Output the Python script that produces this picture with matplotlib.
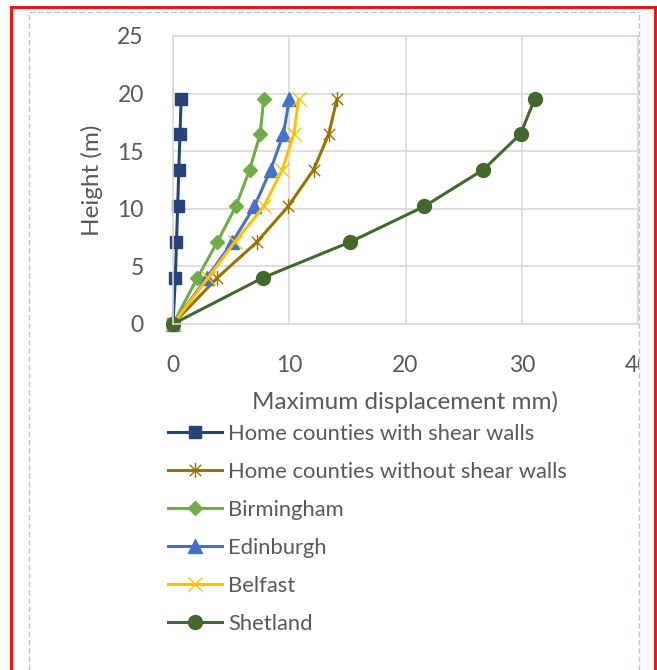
import numpy as np
import matplotlib
matplotlib.use("Agg")
import matplotlib.pyplot as plt
from matplotlib.path import Path
from matplotlib.lines import Line2D
from matplotlib.transforms import Bbox, TransformedBbox

plt.rcParams['font.family'] = ['Lato', 'DejaVu Sans']

# data (displacement in mm, height in m)
height = [0, 4.0, 7.1, 10.2, 13.4, 16.5, 19.5]
home_with_walls = [0, 0.2, 0.3, 0.4, 0.5, 0.6, 0.7]
home_without_walls = [0, 3.8, 7.2, 9.9, 12.1, 13.4, 14.1]
birmingham = [0, 2.1, 3.8, 5.4, 6.6, 7.5, 7.8]
edinburgh = [0, 2.9, 5.1, 7.0, 8.4, 9.5, 10.0]
belfast = [0, 3.0, 5.3, 7.8, 9.4, 10.4, 10.8]
shetland = [0, 7.7, 15.2, 21.6, 26.7, 29.9, 31.1]

series_names = ["Home counties with shear walls", "Home counties without shear walls",
                "Birmingham", "Edinburgh", "Belfast", "Shetland"]
xticks = [0, 10, 20, 30, 40]
yticks = [0, 5, 10, 15, 20, 25]

text_color = "#595959"
grid_color = "#D9D9D9"

# asterisk marker like Excel's "star": X plus a vertical bar
star = Path([(0, -1), (0, 1), (-0.75, -0.75), (0.75, 0.75), (-0.75, 0.75), (0.75, -0.75)],
            [Path.MOVETO, Path.LINETO, Path.MOVETO, Path.LINETO, Path.MOVETO, Path.LINETO])

styles = [
    dict(color="#264478", marker="s", ms=9, mec="#264478"),
    dict(color="#997300", marker=star, ms=11, mew=1.0),
    dict(color="#70AD47", marker="D", ms=7, mec="#70AD47"),
    dict(color="#4472C4", marker="^", ms=10, mec="#4472C4"),
    dict(color="#FFC000", marker="x", ms=10, mew=1.0),
    dict(color="#43682B", marker="o", ms=10, mec="#43682B"),
]
values = [home_with_walls, home_without_walls, birmingham, edinburgh, belfast, shetland]

fig = plt.figure(figsize=(6.57, 6.70), dpi=100)
ax = fig.add_axes([173 / 657, 1 - 324 / 670, (638 - 173) / 657, (324 - 36) / 670])

for name, xs, st in zip(series_names, values, styles):
    ax.plot(xs, height, lw=2.2, label=name, clip_on=False, **st)

ax.set_xlim(0, 40)
ax.set_ylim(0, 25)
ax.set_xticks(xticks)
ax.set_yticks(yticks)
ax.grid(True, color=grid_color, lw=1.2)
ax.set_axisbelow(True)
for s in ax.spines.values():
    s.set_color(grid_color)
    s.set_linewidth(1.2)
ax.tick_params(length=0, colors=text_color, labelsize=16.5)
ax.tick_params(axis='x', pad=22)
ax.tick_params(axis='y', pad=21)
ax.set_xlabel("Maximum displacement mm)", color=text_color, fontsize=17.5, labelpad=11)
ax.set_ylabel("Height (m)", color=text_color, fontsize=17.5, labelpad=10)

# the chart area cuts off the last x tick label
clip = TransformedBbox(Bbox([[0, 0], [639 / 657, 1]]), fig.transFigure)
for t in ax.get_xticklabels():
    t.set_clip_box(clip)
    t.set_clip_on(True)

leg = fig.legend(loc="upper left", bbox_to_anchor=(168 / 657, 1 - 424 / 670),
                 frameon=False, fontsize=15.8, handlelength=2.45, handletextpad=0.3,
                 labelspacing=0.82, borderpad=0, borderaxespad=0)
for t in leg.get_texts():
    t.set_color(text_color)

# chart border (dashed) and outer red frame
dash = dict(color="#B4C7DC", lw=1.0, linestyle=(0, (4, 2)))
fig.add_artist(Line2D([29 / 657, 29 / 657], [0, 1 - 12 / 670], transform=fig.transFigure, **dash))
fig.add_artist(Line2D([639 / 657, 639 / 657], [0, 1 - 12 / 670], transform=fig.transFigure, **dash))
fig.add_artist(Line2D([29 / 657, 639 / 657], [1 - 12 / 670, 1 - 12 / 670], transform=fig.transFigure, **dash))
red = dict(color="#FF0000", lw=2.0)
fig.add_artist(Line2D([10.5 / 657, 10.5 / 657], [0, 1 - 7 / 670], transform=fig.transFigure, **red))
fig.add_artist(Line2D([654.5 / 657, 654.5 / 657], [0, 1 - 7 / 670], transform=fig.transFigure, **red))
fig.add_artist(Line2D([10.5 / 657, 654.5 / 657], [1 - 7 / 670, 1 - 7 / 670], transform=fig.transFigure, **red))

fig.savefig("out.png", dpi=100, facecolor="white")
